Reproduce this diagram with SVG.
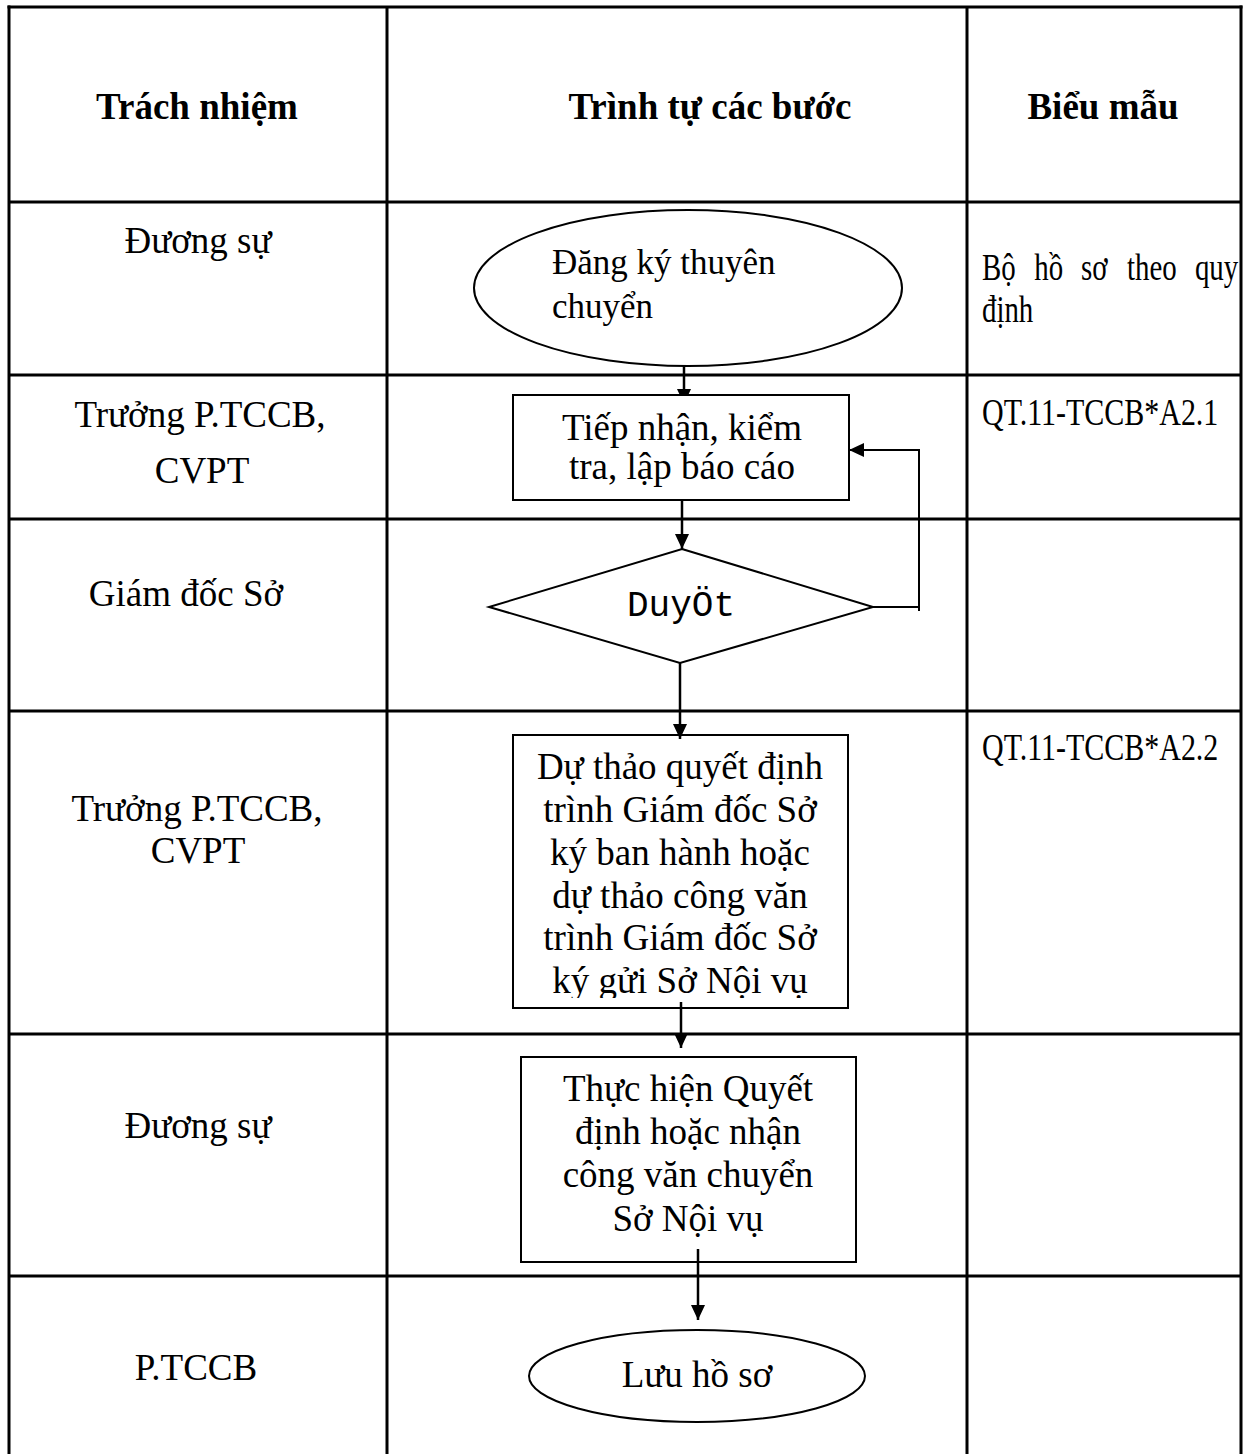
<svg xmlns="http://www.w3.org/2000/svg" width="1247" height="1454" viewBox="0 0 1247 1454">
  <style>
    .grid { stroke: #000; stroke-width: 3; fill: none; }
    .shape { stroke: #000; stroke-width: 2; fill: #fff; }
    .conn { stroke: #000; stroke-width: 2.5; fill: none; }
    .thin { stroke: #000; stroke-width: 2; fill: none; }
    .t { font-family: "Liberation Serif", "Times New Roman", serif; font-size: 37px; fill: #000; }
    .h { font-family: "Liberation Serif", "Times New Roman", serif; font-size: 37px; font-weight: bold; fill: #000; }
    .m { font-family: "Liberation Mono", "Courier New", monospace; font-size: 36px; fill: #000; }
    .c { text-anchor: middle; }
  </style>
  <defs>
    <marker id="arrow" markerUnits="userSpaceOnUse" markerWidth="16" markerHeight="14" refX="15" refY="7" orient="auto">
      <path d="M0,0 L15,7 L0,14 Z" fill="#000"/>
    </marker>
    <clipPath id="clipBig">
      <rect x="513" y="735" width="335" height="263"/>
    </clipPath>
  </defs>
  <rect x="0" y="0" width="1247" height="1454" fill="#fff"/>

  <g id="table">
    <line class="grid" x1="7.5" y1="7" x2="1242.5" y2="7"/>
    <line class="grid" x1="9" y1="5.5" x2="9" y2="1454"/>
    <line class="grid" x1="1241" y1="5.5" x2="1241" y2="1454"/>
    <line class="grid" x1="387" y1="7" x2="387" y2="1454"/>
    <line class="grid" x1="967" y1="7" x2="967" y2="1454"/>
    <line class="grid" x1="9" y1="202" x2="1241" y2="202"/>
    <line class="grid" x1="9" y1="375" x2="1241" y2="375"/>
    <line class="grid" x1="9" y1="519" x2="1241" y2="519"/>
    <line class="grid" x1="9" y1="711" x2="1241" y2="711"/>
    <line class="grid" x1="9" y1="1034" x2="1241" y2="1034"/>
    <line class="grid" x1="9" y1="1276" x2="1241" y2="1276"/>
  </g>

  <g id="headers">
    <text class="h c" x="197" y="119">Trách nhiệm</text>
    <text class="h c" x="710" y="119">Trình tự các bước</text>
    <text class="h c" x="1103" y="119">Biểu mẫu</text>
  </g>

  <g id="responsibility">
    <text class="t c" x="198" y="253">Đương sự</text>
    <text class="t c" x="200" y="427">Trưởng P.TCCB,</text>
    <text class="t c" x="202" y="483">CVPT</text>
    <text class="t c" x="186" y="606">Giám đốc Sở</text>
    <text class="t c" x="197" y="821">Trưởng P.TCCB,</text>
    <text class="t c" x="198" y="863">CVPT</text>
    <text class="t c" x="198" y="1138">Đương sự</text>
    <text class="t c" x="196" y="1380">P.TCCB</text>
  </g>

  <g id="forms">
    <g transform="translate(982,280) scale(0.78,1)">
      <text class="t" x="0" y="0">Bộ</text>
      <text class="t" x="67" y="0">hồ</text>
      <text class="t" x="127" y="0">sơ</text>
      <text class="t" x="186" y="0">theo</text>
      <text class="t" x="273" y="0">quy</text>
    </g>
    <text class="t" transform="translate(982,322) scale(0.78,1)" x="0" y="0">định</text>
    <text class="t" transform="translate(982,425) scale(0.81,1)" x="0" y="0">QT.11-TCCB*A2.1</text>
    <text class="t" transform="translate(982,760) scale(0.81,1)" x="0" y="0">QT.11-TCCB*A2.2</text>
  </g>

  <g id="connectors-under">
    <line class="conn" x1="684" y1="366" x2="684" y2="392"/>
    <polygon points="677,389 691,389 688.2,395 679.8,395" fill="#000"/>
  </g>

  <g id="node-start">
    <ellipse class="shape" cx="688" cy="288" rx="214" ry="78"/>
    <text class="t" x="552" y="274" style="font-size:35px">Đăng ký thuyên</text>
    <text class="t" x="552" y="318" style="font-size:35px">chuyển</text>
  </g>

  <g id="node-receive">
    <rect class="shape" x="513" y="395" width="336" height="105"/>
    <text class="t c" x="682" y="440">Tiếp nhận, kiểm</text>
    <text class="t c" x="682" y="479">tra, lập báo cáo</text>
  </g>

  <g id="node-approve">
    <polygon class="shape" points="682,549 873,607 680,663 489,607"/>
    <text class="m c" x="681" y="616">DuyÖt</text>
  </g>

  <g id="node-draft">
    <rect class="shape" x="513" y="735" width="335" height="273"/>
    <g clip-path="url(#clipBig)">
      <text class="t c" x="680" y="779">Dự thảo quyết định</text>
      <text class="t c" x="680" y="822">trình Giám đốc Sở</text>
      <text class="t c" x="680" y="865">ký ban hành hoặc</text>
      <text class="t c" x="680" y="908">dự thảo công văn</text>
      <text class="t c" x="680" y="950">trình Giám đốc Sở</text>
      <text class="t c" x="680" y="993">ký gửi Sở Nội vụ</text>
    </g>
  </g>

  <g id="node-execute">
    <rect class="shape" x="521" y="1057" width="335" height="205"/>
    <text class="t c" x="688" y="1101">Thực hiện Quyết</text>
    <text class="t c" x="688" y="1144">định hoặc nhận</text>
    <text class="t c" x="688" y="1187">công văn chuyển</text>
    <text class="t c" x="688" y="1231">Sở Nội vụ</text>
  </g>

  <g id="node-archive">
    <ellipse class="shape" cx="697" cy="1376" rx="168" ry="46"/>
    <text class="t c" x="697" y="1387">Lưu hồ sơ</text>
  </g>

  <g id="connectors">
    <line class="conn" x1="682" y1="500" x2="682" y2="549" marker-end="url(#arrow)"/>
    <polyline class="thin" points="873,607 919,607 919,450 849,450" marker-end="url(#arrow)"/>
    <line class="thin" x1="919" y1="605" x2="919" y2="611"/>
    <line class="conn" x1="680" y1="663" x2="680" y2="739" marker-end="url(#arrow)"/>
    <line class="conn" x1="681" y1="1002" x2="681" y2="1048" marker-end="url(#arrow)"/>
    <line class="conn" x1="698" y1="1249" x2="698" y2="1320" marker-end="url(#arrow)"/>
  </g>
</svg>
